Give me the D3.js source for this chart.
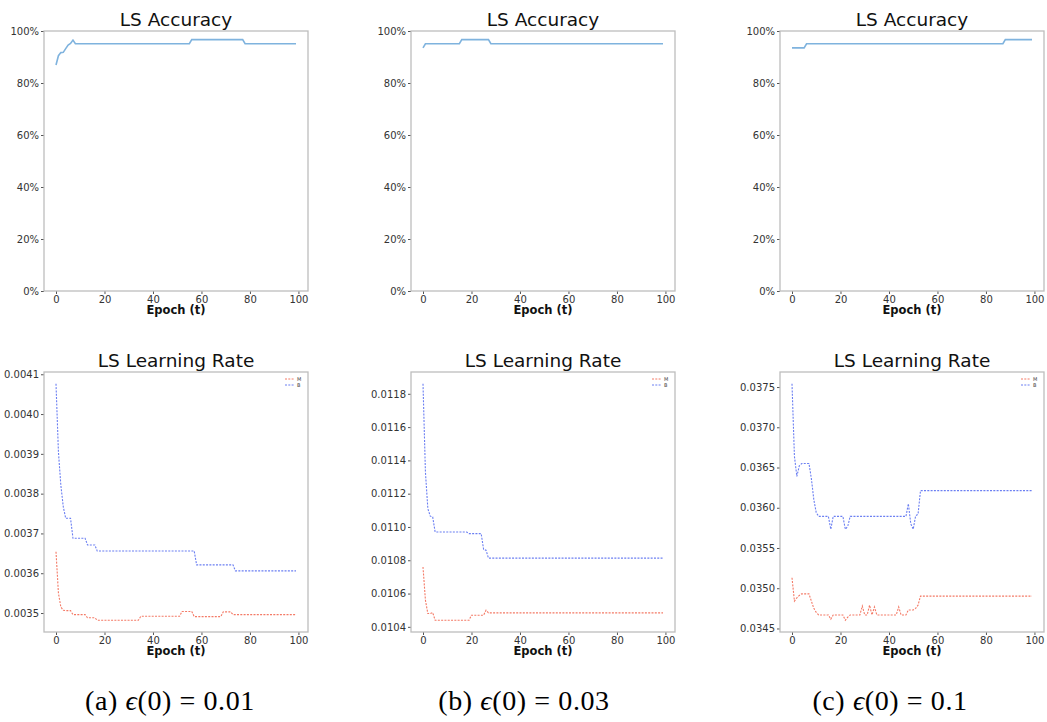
<!DOCTYPE html>
<html>
<head>
<meta charset="utf-8">
<script src="https://cdn.jsdelivr.net/npm/d3@7"></script>
<style>
body { margin: 0; background: #fff; }
text { font-family: "DejaVu Sans", sans-serif; }
</style>
</head>
<body>
<svg id="chart" width="1047" height="722"></svg>
<script>
// ---- data (epoch breakpoints + values) ----
var xTicks = [0, 20, 40, 60, 80, 100];
var accTicks = [0, 0.2, 0.4, 0.6, 0.8, 1.0];

var accA_t = [0, 1, 2, 3, 4, 5, 6, 7, 8, 55, 56, 77, 78, 99];
var accA   = [0.869, 0.905, 0.917, 0.918, 0.932, 0.946, 0.952, 0.965, 0.951, 0.951, 0.967, 0.967, 0.951, 0.951];
var accB_t = [0, 1, 15, 16, 27, 28, 99];
var accB   = [0.935, 0.951, 0.951, 0.967, 0.967, 0.951, 0.951];
var accC_t = [0, 5, 6, 87, 88, 99];
var accC   = [0.935, 0.935, 0.951, 0.951, 0.967, 0.967];

var lrA_M_t = [0, 1, 2, 3, 4, 6, 7, 12, 13, 16, 17, 34, 35, 51, 52, 56, 57, 68, 69, 72, 73, 99];
var lrA_M   = [0.003654, 0.00355, 0.003515, 0.003507, 0.003506, 0.003506, 0.003496, 0.003496, 0.003488, 0.003488,
               0.003482, 0.003482, 0.003492, 0.003492, 0.003504, 0.003504, 0.003491, 0.003491, 0.003503, 0.003503,
               0.003496, 0.003496];
var lrA_B_t = [0, 1, 2, 3, 4, 6, 7, 12, 13, 16, 17, 57, 58, 73, 74, 99];
var lrA_B   = [0.004076, 0.003905, 0.003821, 0.003767, 0.003738, 0.003738, 0.003688, 0.003688, 0.003671, 0.003671,
               0.003656, 0.003656, 0.003621, 0.003621, 0.003606, 0.003606];
var lrA_ticks = [0.0035, 0.0036, 0.0037, 0.0038, 0.0039, 0.0040, 0.0041];

var lrB_M_t = [0, 1, 2, 3, 4, 5, 19, 20, 25, 26, 27, 99];
var lrB_M   = [0.01076, 0.01056, 0.01048, 0.01048, 0.010486, 0.01044, 0.01044, 0.01047, 0.01047, 0.0105, 0.010484, 0.010484];
var lrB_B_t = [0, 1, 2, 3, 4, 5, 18, 19, 24, 25, 26, 27, 99];
var lrB_B   = [0.01186, 0.01133, 0.01111, 0.011065, 0.01106, 0.01097, 0.01097, 0.01096, 0.01096, 0.010865, 0.01086, 0.010813, 0.010813];
var lrB_ticks = [0.0104, 0.0106, 0.0108, 0.0110, 0.0112, 0.0114, 0.0116, 0.0118];

var lrC_M_t = [0, 1, 2, 3, 4, 7, 8, 9, 10, 11, 15, 16, 17, 21, 22, 23, 24, 28, 29, 30, 31, 32, 33, 34, 35,
               43, 44, 45, 47, 48, 50, 51, 52, 53, 99];
var lrC_M   = [0.03513, 0.03484, 0.03488, 0.03491, 0.03493, 0.03493, 0.03484, 0.03475, 0.03470, 0.034668,
               0.034668, 0.034615, 0.034668, 0.034668, 0.034603, 0.03464, 0.034668, 0.034668, 0.034779, 0.034668,
               0.034668, 0.03479, 0.034668, 0.034767, 0.034668, 0.034668, 0.034767, 0.034668, 0.034668, 0.03473,
               0.03473, 0.03475, 0.03479, 0.034902, 0.034902];
var lrC_B_t = [0, 1, 2, 3, 4, 7, 8, 9, 10, 11, 15, 16, 17, 21, 22, 23, 24, 47, 48, 49, 50, 51, 52, 53, 99];
var lrC_B   = [0.03754, 0.03664, 0.03639, 0.03652, 0.036549, 0.036549, 0.03636, 0.03610, 0.03594, 0.035893,
               0.035893, 0.035733, 0.035893, 0.035893, 0.035733, 0.03577, 0.035893, 0.035893, 0.03605, 0.0358,
               0.035733, 0.0359, 0.03592, 0.036213, 0.036213];
var lrC_ticks = [0.0345, 0.0350, 0.0355, 0.0360, 0.0365, 0.0370, 0.0375];

var seriesNames = ['M', 'B'];
var captions = [['(a) ', '0.01'], ['(b) ', '0.03'], ['(c) ', '0.1']];

// ---- layout ----
var svg = d3.select('#chart');
var frameW = 264, frameH = 260;
var colLeft = [44, 411, 780];
var rowTop = [31, 372];
var accColor = '#7fb3de';
var mColor = '#f47a66', bColor = '#6b7ff2';

// matplotlib-like 5% data margin
var pad = function(ext) {
    var d = (ext[1] - ext[0]) * 0.05;
    return [ext[0] - d, ext[1] + d];
};

var drawPanel = function(p)
{
    var g = svg.append('g').attr('transform', 'translate(' + p.left + ',' + p.top + ')');
    var x = d3.scaleLinear().domain(pad([0, 99])).range([0, frameW]);
    var y = d3.scaleLinear().domain(p.yDomain).range([frameH, 0]);

    var xa = g.append('g').attr('transform', 'translate(0,' + frameH + ')')
        .call(d3.axisBottom(x).tickValues(xTicks).tickSize(3).tickPadding(1.5));
    var ya = g.append('g')
        .call(d3.axisLeft(y).tickValues(p.yTicks).tickFormat(p.fmt).tickSize(3).tickPadding(2));
    [xa, ya].forEach(function(a){
        a.select('.domain').remove();
        a.selectAll('line').attr('stroke', '#555');
        a.selectAll('text').attr('fill', '#333').style('font-size', '10px')
            .style('font-family', '"DejaVu Sans", sans-serif');
    });

    var line = d3.line().x(function(d){ return x(d[0]); }).y(function(d){ return y(d[1]); });
    p.series.forEach(function(s){
        var pts = s.t.map(function(t, i){ return [t, s.v[i]]; });
        var path = g.append('path').datum(pts).attr('d', line)
            .attr('fill', 'none').attr('stroke', s.color).attr('stroke-width', s.width);
        if (s.dash) { path.attr('stroke-dasharray', s.dash); }
    });

    g.append('rect').attr('width', frameW).attr('height', frameH)
        .attr('fill', 'none').attr('stroke', '#bdbdbd').attr('stroke-width', 1.3);

    g.append('text').attr('x', frameW / 2).attr('y', -5).attr('text-anchor', 'middle')
        .style('font-size', '18.5px').attr('fill', '#111').text(p.title);
    g.append('text').attr('x', frameW / 2).attr('y', frameH + 23).attr('text-anchor', 'middle')
        .style('font-size', '11.5px').style('font-weight', 'bold').attr('fill', '#111').text('Epoch (t)');

    if (p.legend) {
        var lg = g.append('g').attr('transform', 'translate(' + (frameW - 23) + ',7)');
        p.series.forEach(function(s, i){
            lg.append('line').attr('x1', 0).attr('x2', 9).attr('y1', i * 6).attr('y2', i * 6)
                .attr('stroke', s.color).attr('stroke-width', 1).attr('stroke-dasharray', s.dash);
            lg.append('text').attr('x', 12).attr('y', i * 6 + 1.8).style('font-size', '5px')
                .attr('fill', '#444').text(seriesNames[i]);
        });
    }
};

var accSets = [[accA_t, accA], [accB_t, accB], [accC_t, accC]];
accSets.forEach(function(a, i){
    drawPanel({
        left: colLeft[i], top: rowTop[0], title: 'LS Accuracy',
        yDomain: [0, 1], yTicks: accTicks, fmt: d3.format('.0%'),
        series: [{ t: a[0], v: a[1], color: accColor, width: 1.6 }]
    });
});

var lrSets = [
    [lrA_M_t, lrA_M, lrA_B_t, lrA_B, lrA_ticks],
    [lrB_M_t, lrB_M, lrB_B_t, lrB_B, lrB_ticks],
    [lrC_M_t, lrC_M, lrC_B_t, lrC_B, lrC_ticks]
];
lrSets.forEach(function(s, i){
    var all = s[1].concat(s[3]);
    drawPanel({
        left: colLeft[i], top: rowTop[1], title: 'LS Learning Rate',
        yDomain: pad(d3.extent(all)), yTicks: s[4], fmt: d3.format('.4f'), legend: true,
        series: [
            { t: s[0], v: s[1], color: mColor, width: 1.1, dash: '2,1.3' },
            { t: s[2], v: s[3], color: bColor, width: 1.1, dash: '2,1.3' }
        ]
    });
});

// sub-figure captions
var capX = [170, 524, 890];
captions.forEach(function(c, i){
    var t = svg.append('text').attr('x', capX[i]).attr('y', 710).attr('text-anchor', 'middle')
        .style('font-family', '"Liberation Serif", "DejaVu Serif", serif').style('font-size', '28px')
        .style('letter-spacing', '0.6px').attr('fill', '#000');
    t.append('tspan').text(c[0]);
    t.append('tspan').style('font-style', 'italic').text('\u03f5');
    t.append('tspan').text('(0) = ' + c[1]);
});
</script>
</body>
</html>
